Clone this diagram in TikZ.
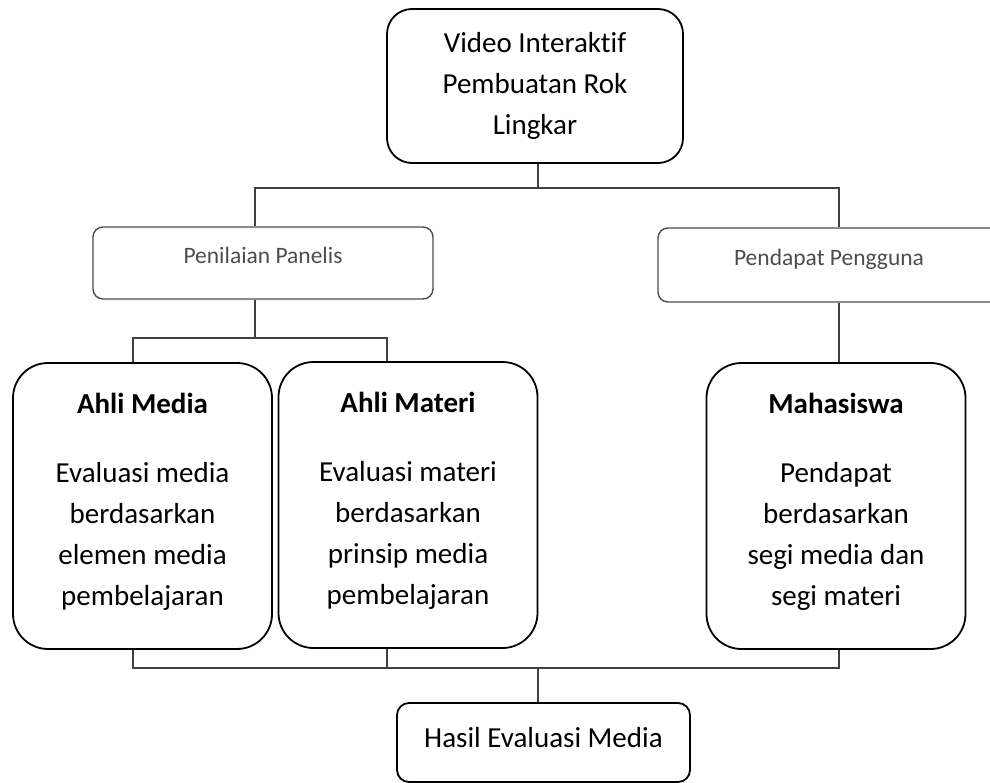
\documentclass[tikz,border=0pt]{standalone}
\usepackage{fontspec}
\setmainfont{Carlito}[Ligatures=NoCommon]
\usepackage{tikz}

\begin{document}
\begin{tikzpicture}[x=1pt, y=-1pt,
  box/.style={draw, line width=1.8pt, align=center, inner sep=2pt,
    font=\fontsize{29}{41}\selectfont},
  bigbox/.style={box, rounded corners=35, minimum width=259, minimum height=286, text depth=13},
  smallbox/.style={draw=black!70, line width=1.4pt, rounded corners=10, align=center,
    text=black!70, font=\fontsize{23.5}{28}\selectfont, text depth=16},
  conn/.style={draw=black!75, line width=1.8pt}]
  \useasboundingbox (0,0) rectangle (990,783);
  % boxes
  \node[box, rounded corners=25, minimum width=296, minimum height=154] (video) at (535,86)
    {Video Interaktif\\Pembuatan Rok\\Lingkar};
  \node[smallbox, minimum width=340, minimum height=72] (panelis) at (263,263) {Penilaian Panelis};
  \node[smallbox, minimum width=342, minimum height=74] (pengguna) at (829,265) {Pendapat Pengguna};
  \node[bigbox] (media) at (142.5,506)
    {\textbf{Ahli Media}\\[28pt]Evaluasi media\\berdasarkan\\elemen media\\pembelajaran};
  \node[bigbox] (materi) at (408,505)
    {\textbf{Ahli Materi}\\[28pt]Evaluasi materi\\berdasarkan\\prinsip media\\pembelajaran};
  \node[bigbox] (mhs) at (836,506)
    {\textbf{Mahasiswa}\\[28pt]Pendapat\\berdasarkan\\segi media dan\\segi materi};
  \node[box, rounded corners=12, minimum width=293, minimum height=79, text depth=10] (hasil) at (543.5,742.5)
    {Hasil Evaluasi Media};
  % junctions
  \coordinate (topl) at (255,188);
  \coordinate (topr) at (839,188);
  \coordinate (midl) at (133,338);
  \coordinate (midr) at (387,338);
  \coordinate (botl) at (133,668);
  \coordinate (botr) at (839,668);
  % connectors
  \draw[conn] (video.south -| 538,0) -- (538,188);
  \draw[conn] (panelis.north -| topl) -- (topl) -- (topr) -- (pengguna.north -| topr);
  \draw[conn] (panelis.south -| topl) -- (topl |- midl);
  \draw[conn] (pengguna.south -| topr) -- (mhs.north -| topr);
  \draw[conn] (media.north -| midl) -- (midl) -- (midr) -- (materi.north -| midr);
  \draw[conn] (media.south -| botl) -- (botl) -- (botr) -- (mhs.south -| botr);
  \draw[conn] (materi.south -| midr) -- (midr |- botl);
  \draw[conn] (hasil.north -| 538,0) -- (538,668);
\end{tikzpicture}
\end{document}
